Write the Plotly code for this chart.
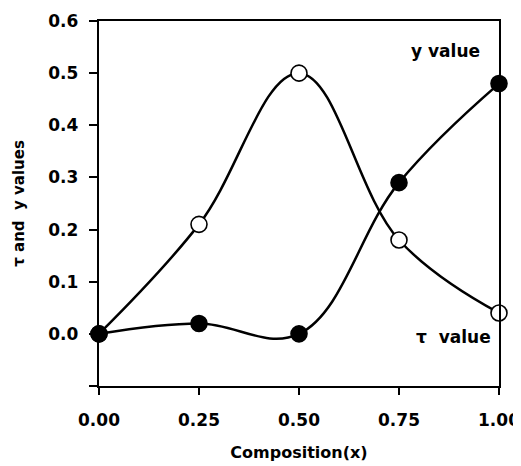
import plotly.graph_objects as go

composition = [0.00, 0.25, 0.50, 0.75, 1.00]
tau_values = [0.00, 0.21, 0.50, 0.18, 0.04]   # open circles
y_values = [0.00, 0.02, 0.00, 0.29, 0.48]     # filled circles
x_ticks = [0.00, 0.25, 0.50, 0.75, 1.00]
x_tick_labels = ["0.00", "0.25", "0.50", "0.75", "1.00"]
y_ticks = [0.0, 0.1, 0.2, 0.3, 0.4, 0.5, 0.6]
y_tick_labels = ["0.0", "0.1", "0.2", "0.3", "0.4", "0.5", "0.6"]

FONT = "DejaVu Sans, sans-serif"

fig = go.Figure()
fig.add_trace(go.Scatter(
    x=composition, y=tau_values, name="τ value",
    mode="lines+markers", line=dict(color="black", width=2.5, shape="spline", smoothing=1.1),
    marker=dict(symbol="circle", size=16, color="white", line=dict(color="black", width=1.6)),
    cliponaxis=False,
))
fig.add_trace(go.Scatter(
    x=composition, y=y_values, name="y value",
    mode="lines+markers", line=dict(color="black", width=2.5, shape="spline", smoothing=1.1),
    marker=dict(symbol="circle", size=16, color="black", line=dict(color="black", width=1.6)),
    cliponaxis=False,
))

fig.add_annotation(x=0.865, y=0.542, text="<b>y value</b>", showarrow=False,
                   font=dict(family=FONT, size=17, color="black"))
fig.add_annotation(x=0.885, y=-0.006, text="<b>τ  value</b>", showarrow=False,
                   font=dict(family=FONT, size=17, color="black"))

fig.update_layout(
    width=521, height=466,
    margin=dict(l=91, r=30, t=13, b=88),
    paper_bgcolor="white", plot_bgcolor="white",
    showlegend=False,
    font=dict(family=FONT, size=17, color="black"),
)
fig.update_xaxes(
    range=[0, 1], tickvals=x_ticks, ticktext=[f"<b>{t}</b>" for t in x_tick_labels],
    ticks="outside", ticklen=7, tickwidth=2, tickcolor="black", ticklabelstandoff=10,
    showline=True, linewidth=2.4, linecolor="black", mirror=True,
    showgrid=False, zeroline=False, automargin=False,
    title=dict(text="<b>Composition(x)</b>", font=dict(size=16), standoff=18),
)
fig.update_yaxes(
    range=[-0.1, 0.6], tickvals=y_ticks + [-0.1], ticktext=[f"<b>{t}</b>" for t in y_tick_labels] + [""],
    ticks="outside", ticklen=8, tickwidth=2, tickcolor="black", ticklabelstandoff=7,
    showline=True, linewidth=2.4, linecolor="black", mirror=True,
    showgrid=False, zeroline=False, automargin=False,
    title=dict(text="<b>τ and  y values</b>", font=dict(size=15), standoff=20),
)

fig.write_html("out.html")
